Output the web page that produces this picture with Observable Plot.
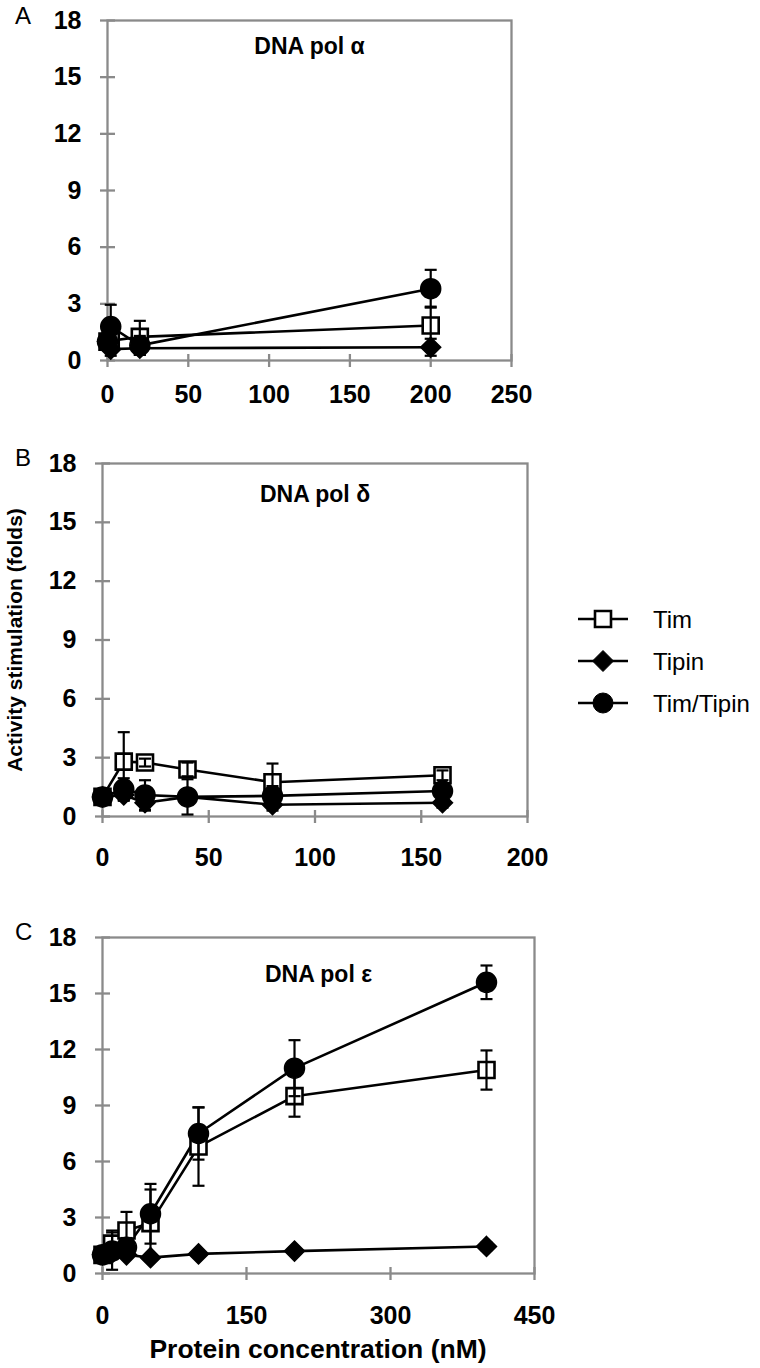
<!DOCTYPE html>
<html><head><meta charset="utf-8">
<script src="https://cdn.jsdelivr.net/npm/d3@7"></script>
<script src="https://cdn.jsdelivr.net/npm/@observablehq/plot@0.6"></script>
<style>
body{margin:0;background:#fff;}
#root{position:relative;width:760px;height:1368px;overflow:hidden;font-family:"Liberation Sans",Arial,sans-serif;}
#root > svg{position:absolute;}
</style></head><body><div id="root"></div>
<script>
// ---------- data ----------
const seriesNames = ["Tim", "Tipin", "Tim/Tipin"];
const yTickValues = [0, 3, 6, 9, 12, 15, 18];

// Panel A – DNA pol α
const aTitle = "DNA pol α";
const aConc = [0, 2, 20, 200];
const aTicks = [0, 50, 100, 150, 200, 250];
const aTim = [1, 1.05, 1.25, 1.85];
const aTimErr = [0, 0.5, 0.85, 1.0];
const aTipin = [1, 0.6, 0.65, 0.7];
const aTipinErr = [0, 0.35, 0.35, 0.45];
const aBoth = [1, 1.8, 0.8, 3.8];
const aBothErr = [0, 1.15, 0.5, 1.0];

// Panel B – DNA pol δ
const bTitle = "DNA pol δ";
const bConc = [0, 10, 20, 40, 80, 160];
const bTicks = [0, 50, 100, 150, 200];
const bTim = [1, 2.8, 2.75, 2.4, 1.75, 2.1];
const bTimErr = [0, 1.5, 0.2, 0.35, 0.95, 0.25];
const bTipin = [1, 1.1, 0.7, 1.0, 0.6, 0.7];
const bTipinErr = [0, 0.3, 0.4, 0.3, 0.3, 0.25];
const bBoth = [1, 1.4, 1.1, 1.0, 1.05, 1.3];
const bBothErr = [0, 0.55, 0.75, 0.9, 0.5, 0.4];

// Panel C – DNA pol ε
const cTitle = "DNA pol ε";
const cConc = [0, 10, 25, 50, 100, 200, 400];
const cTicks = [0, 150, 300, 450];
const cTim = [1, 1.6, 2.3, 2.7, 6.8, 9.5, 10.9];
const cTimErr = [0, 0.7, 1.0, 1.8, 2.1, 1.1, 1.05];
const cTipin = [1, 1.1, 1.0, 0.85, 1.05, 1.2, 1.45];
const cTipinErr = [0, 0.15, 0.15, 0.15, 0.1, 0.1, 0.2];
const cBoth = [1, 1.2, 1.4, 3.2, 7.5, 11.0, 15.6];
const cBothErr = [0, 1.0, 0.5, 1.6, 1.4, 1.5, 0.9];

const yTitle = "Activity stimulation (folds)";
const xTitle = "Protein concentration (nM)";

// ---------- helpers ----------
function rowsOf(conc, vals, errs) {
  const out = [];
  vals.forEach((v, si) => conc.forEach((c, i) => out.push({s: seriesNames[si], x: c, y: v[i], e: errs[si][i]})));
  return out;
}
const rad = size => Math.sqrt(size / Math.PI);
const hline = {draw(ctx, size){ const r = rad(size); ctx.moveTo(-r, 0); ctx.lineTo(r, 0); }};
const vline = {draw(ctx, size){ const r = rad(size); ctx.moveTo(0, -r); ctx.lineTo(0, r); }};
const sq = {draw(ctx, size){ const r = rad(size); ctx.moveTo(-r,-r); ctx.lineTo(r,-r); ctx.lineTo(r,r); ctx.lineTo(-r,r); ctx.closePath(); }};
const dia = {draw(ctx, size){ const r = rad(size); ctx.moveTo(0,-r); ctx.lineTo(r,0); ctx.lineTo(0,r); ctx.lineTo(-r,0); ctx.closePath(); }};
const circ = {draw(ctx, size){ const r = rad(size); ctx.moveTo(r,0); ctx.arc(0,0,r,0,2*Math.PI); ctx.closePath(); }};

const GRAY = "#8a8a8a";
const FONT = "Liberation Sans, Arial, sans-serif";
const LW = 2.6;

function panel(o) {
  const rows = o.rows;
  const withErr = rows.filter(d => d.e > 0);
  const by = s => rows.filter(d => d.s === s);
  return Plot.plot({
    width: o.width, height: o.height,
    marginLeft: o.ml, marginRight: o.mr, marginTop: o.mt, marginBottom: o.mb,
    style: {fontFamily: FONT, background: "transparent", overflow: "visible"},
    x: {domain: o.xDomain},
    y: {domain: [0, 18]},
    marks: [
      Plot.frame({stroke: GRAY, strokeWidth: 2.3}),
      Plot.axisY(yTickValues, {tickSize: 0, tickPadding: 26, fontSize: 25, fontWeight: "bold", fill: "black", label: null}),
      Plot.axisX(o.xTicks, {tickSize: 0, tickPadding: o.xpad, fontSize: 25, fontWeight: "bold", fill: "black", label: null}),
      Plot.dot(yTickValues, {x: () => o.xDomain[0], y: d => d, symbol: hline, r: 7.5, stroke: GRAY, strokeWidth: 2.3}),
      Plot.dot(o.xTicks, {x: d => d, y: () => 0, symbol: vline, r: 6.5, stroke: GRAY, strokeWidth: 2.3}),
      Plot.line(rows, {x: "x", y: "y", z: "s", stroke: "black", strokeWidth: LW}),
      Plot.dot(by("Tim"), {x: "x", y: "y", symbol: sq, r: 8, fill: "white", stroke: "black", strokeWidth: 2.6}),
      Plot.dot(by("Tipin"), {x: "x", y: "y", symbol: dia, r: 10, fill: "black", stroke: "black"}),
      Plot.dot(by("Tim/Tipin"), {x: "x", y: "y", symbol: circ, r: 10, fill: "black", stroke: "black"}),
      Plot.ruleX(withErr, {x: "x", y1: d => d.y - d.e, y2: d => d.y + d.e, stroke: "black", strokeWidth: 2.2}),
      Plot.dot(withErr, {x: "x", y: d => d.y + d.e, symbol: hline, r: 6, stroke: "black", strokeWidth: 2.2}),
      Plot.dot(withErr, {x: "x", y: d => Math.max(0, d.y - d.e), symbol: hline, r: 6, stroke: "black", strokeWidth: 2.2}),
      Plot.text([o.title], {frameAnchor: "top", dy: o.tdy, fontSize: 23, fontWeight: "bold", fill: "black"})
    ]
  });
}

const root = document.getElementById("root");
function place(svg, top) { svg.style.left = "0px"; svg.style.top = top + "px"; root.appendChild(svg); }

const A = panel({
  rows: rowsOf(aConc, [aTim, aTipin, aBoth], [aTimErr, aTipinErr, aBothErr]),
  xDomain: [0, 250], xTicks: aTicks, title: aTitle, xpad: 25,
  width: 560, height: 420, ml: 107, mr: 49, mt: 20, mb: 60, tdy: 17
});
place(A, 0);

const B = panel({
  rows: rowsOf(bConc, [bTim, bTipin, bBoth], [bTimErr, bTipinErr, bBothErr]),
  xDomain: [0, 200], xTicks: bTicks, title: bTitle, xpad: 32,
  width: 560, height: 440, ml: 102, mr: 33, mt: 23, mb: 64, tdy: 22
});
place(B, 440);

const C = panel({
  rows: rowsOf(cConc, [cTim, cTipin, cBoth], [cTimErr, cTipinErr, cBothErr]),
  xDomain: [0, 450], xTicks: cTicks, title: cTitle, xpad: 33,
  width: 560, height: 468, ml: 102, mr: 26, mt: 37, mb: 95, tdy: 28
});
place(C, 900);

// ---------- overlay: panel letters, axis titles, legend ----------
const ov = d3.select(root).append("svg").attr("width", 760).attr("height", 1368)
  .style("left", "0px").style("top", "0px").style("font-family", FONT);
[["A", 24], ["B", 466], ["C", 940]].forEach(([t, y]) =>
  ov.append("text").attr("x", 15).attr("y", y).attr("font-size", 24).text(t));
ov.append("text").attr("transform", "translate(22,640) rotate(-90)").attr("text-anchor", "middle")
  .attr("font-size", 21).attr("font-weight", "bold").text(yTitle);
ov.append("text").attr("x", 318).attr("y", 1358).attr("text-anchor", "middle")
  .attr("font-size", 26.5).attr("font-weight", "bold").text(xTitle);

const legY = [619, 661, 703];
const legSym = [sq, dia, circ];
const legR = [8, 10.5, 10];
seriesNames.forEach((name, i) => {
  const g = ov.append("g").attr("transform", `translate(603,${legY[i]})`);
  g.append("line").attr("x1", -25).attr("x2", 25).attr("stroke", "black").attr("stroke-width", LW);
  g.append("path").attr("d", d3.symbol(legSym[i], Math.PI * legR[i] * legR[i])())
    .attr("fill", i === 0 ? "white" : "black").attr("stroke", "black").attr("stroke-width", i === 0 ? 2.6 : 1);
  ov.append("text").attr("x", 653).attr("y", legY[i]).attr("dy", "0.36em").attr("font-size", 24).text(name);
});
</script></body></html>
